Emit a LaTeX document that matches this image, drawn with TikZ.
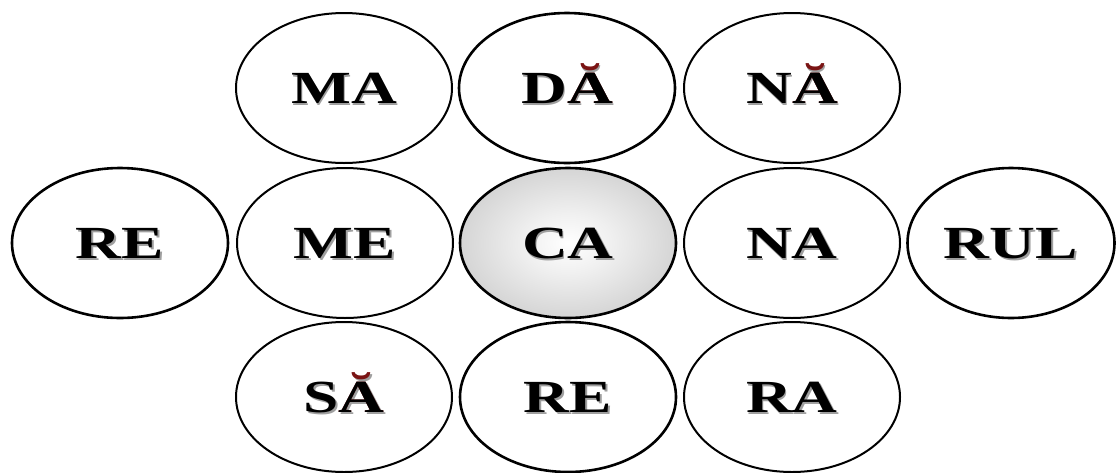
\documentclass[tikz,border=0pt]{standalone}
\usepackage{fontspec}
\newfontfamily\algfont[FakeStretch=1.38]{Liberation Serif}
\usetikzlibrary{shapes.geometric}
\definecolor{brevered}{HTML}{7A1414}
\pgfdeclareradialshading{cashade}{\pgfpoint{0bp}{0bp}}{color(0bp)=(white); color(10bp)=(gray!12); color(50bp)=(gray!68)}
\newcommand\shadowed[2]{\makebox[0pt][l]{\hspace{1.8pt}\raisebox{-1.8pt}{\color{gray!75}#1}}#2}
\newcommand\abreve{\makebox[0pt][l]{\color{brevered}Ă}A}
\begin{document}
\begin{tikzpicture}[x=1pt,y=-1pt,
  cell/.style={ellipse, draw=black, line width=2pt, minimum width=216pt, minimum height=150pt,
    inner sep=0pt, font=\algfont\bfseries\fontsize{46}{46}\selectfont, text height=31pt, text depth=0pt},
  boldcell/.style={cell, line width=2.6pt},
  centercell/.style={boldcell, shading=cashade}]
\useasboundingbox (0,0) rectangle (1116,472);
% top row
\node[cell]     (ma) at (344,88)  {\shadowed{MA}{MA}};
\node[boldcell] (da) at (567,88)  {\shadowed{DĂ}{D\abreve}};
\node[cell]     (na1) at (792,88) {\shadowed{NĂ}{N\abreve}};
% middle row
\node[boldcell] (re1) at (120,243) {\shadowed{RE}{RE}};
\node[cell]     (me) at (345,243)  {\shadowed{ME}{ME}};
\node[centercell] (ca) at (568,243) {\shadowed{CA}{CA}};
\node[cell]     (na2) at (792,243) {\shadowed{NA}{NA}};
\node[boldcell, minimum width=207pt] (rul) at (1011,243) {\shadowed{RUL}{RUL}};
% bottom row
\node[cell]     (sa) at (344,397)  {\shadowed{SĂ}{S\abreve}};
\node[boldcell] (re2) at (568,397) {\shadowed{RE}{RE}};
\node[cell]     (ra) at (792,397)  {\shadowed{RA}{RA}};
\end{tikzpicture}
\end{document}
